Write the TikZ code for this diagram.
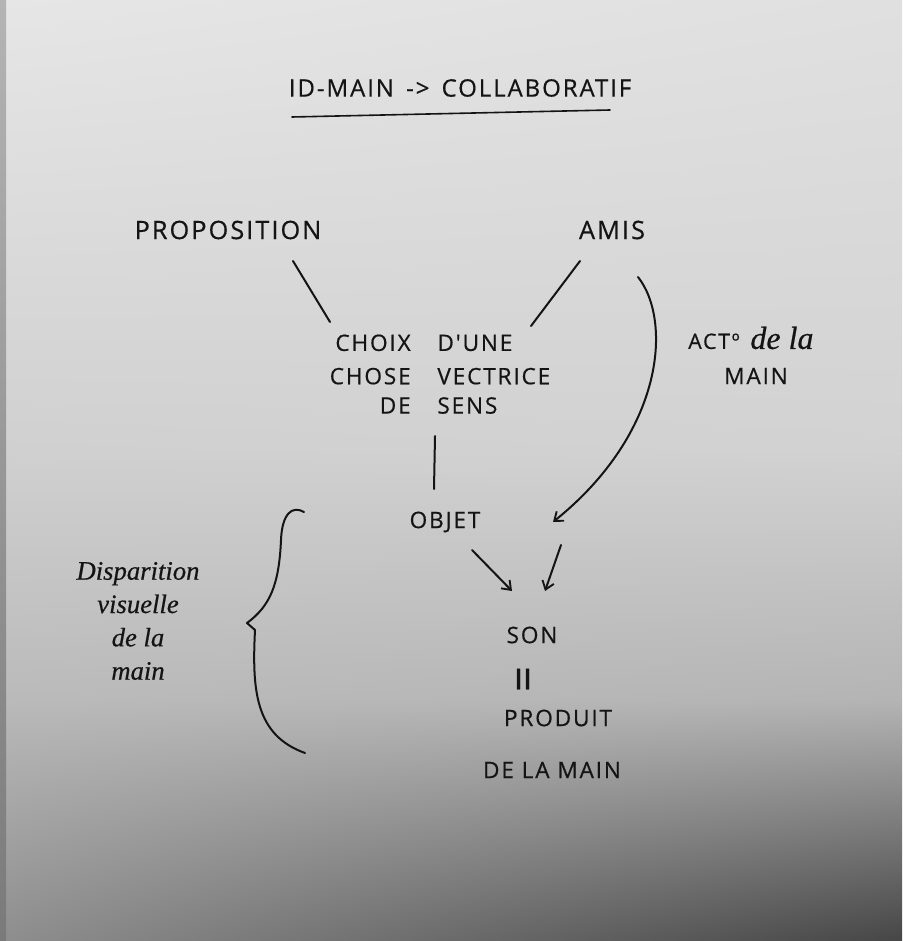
\documentclass[tikz,border=0pt]{standalone}
\usepackage{fontspec}
\usetikzlibrary{arrows.meta,shadings}
\newfontfamily\hand[LetterSpace=8,FakeBold=0.5]{Open Sans}
\newfontfamily\cursive[FakeBold=0.5]{Liberation Serif}
\definecolor{ink}{HTML}{141414}
\definecolor{pA}{HTML}{E6E6E6}
\definecolor{pB}{HTML}{E0E0E0}
\definecolor{pC}{HTML}{D0D0D0}
\definecolor{pD}{HTML}{D2D2D2}
\definecolor{pE}{HTML}{BABABA}
\definecolor{pF}{HTML}{B4B4B4}
\definecolor{pG}{HTML}{8E8E8E}
\definecolor{pH}{HTML}{464646}
\definecolor{sA}{HTML}{B4B4B4}
\definecolor{sB}{HTML}{7A7A7A}
\tikzset{
  px/.style={x=0.75pt,y=-0.75pt},
  caps/.style={inner sep=0pt,text=ink,font=\hand\fontsize{17}{20}\selectfont,align=center},
  big/.style={inner sep=0pt,text=ink,font=\hand\fontsize{19}{22}\selectfont},
  script/.style={inner sep=0pt,text=ink,font=\cursive\itshape\fontsize{20}{25}\selectfont,align=center},
  pen/.style={draw=ink,line width=1.5pt,line cap=round,line join=round},
  tip/.style={-{Straight Barb[length=6pt,width=9pt,line width=1.4pt]}}
}
\begin{document}
\begin{tikzpicture}[px]
\useasboundingbox (0,0) rectangle (902,941);
% paper
\shade[upper left=pA,upper right=pB,lower left=pC,lower right=pD] (0,0) rectangle (902,450.5);
\shade[upper left=pC,upper right=pD,lower left=pE,lower right=pF] (0,450) rectangle (902,700.5);
\shade[upper left=pE,upper right=pF,lower left=pG,lower right=pH] (0,700) rectangle (902,941);
\shade[top color=sA,bottom color=sB] (0,0) rectangle (6,941);

% title
\node[caps,font=\hand\fontsize{18}{20}\selectfont] (title) at (460,88) {ID-MAIN \,->\, COLLABORATIF};
\coordinate (ul1) at (292,117);
\coordinate (ul2) at (610,110);
\draw[pen,line width=1.2pt] (ul1) -- (ul2);

% top nodes
\node[big] (prop) at (228,230) {PROPOSITION};
\node[big] (amis) at (612,230) {AMIS};

% center
\node[caps,anchor=north,align=left] (choix) at (440,332)
  {\begin{tabular}{@{}r@{\hspace{20pt}}l@{}}CHOIX & D'UNE\\[5pt] CHOSE & VECTRICE\\[2pt] DE & SENS\end{tabular}};
\node[caps] (objet) at (445,522) {OBJET};
\node[caps] (son) at (532,635) {SON};
\node[caps,font=\hand\fontsize{34}{34}\selectfont] (eq) at (528,679) {\rotatebox{90}{=}};
\node[caps] (produit) at (558,718) {PRODUIT};
\node[caps] (delamain) at (552,770) {DE LA MAIN};

% side labels
\node[script,anchor=west,font=\cursive\itshape\fontsize{24}{25}\selectfont] (act) at (688,338) {{\hand\upshape\fontsize{16}{18}\selectfont ACTº}\,\,de la};
\node[caps] (actmain) at (756,376) {MAIN};
\node[script] (disp) at (138,621) {Disparition\\visuelle\\de la\\main};

% connectors
\coordinate (p1) at (293,261);
\coordinate (p2) at (330,322);
\draw[pen] (p1) -- (p2);
\coordinate (a1) at (580,261);
\coordinate (a2) at (531,326);
\draw[pen] (a1) -- (a2);
\coordinate (c1) at (435,436);
\coordinate (c2) at (434,489);
\draw[pen] (c1) -- (c2);
\coordinate (o1) at (472,550);
\coordinate (o2) at (512,591);
\draw[pen,tip] (o1) -- (o2);
\coordinate (m1) at (638,277);
\coordinate (m2) at (553,522);
\draw[pen,tip] (m1) .. controls (672,320) and (665,432) .. (m2);
\coordinate (r1) at (561,545);
\coordinate (r2) at (545,591);
\draw[pen,tip] (r1) -- (r2);

% brace
\coordinate (b1) at (304,512);
\coordinate (b2) at (305,753);
\draw[pen] (b1) .. controls (292,505) and (282,514) .. (281,540)
  .. controls (279,585) and (270,606) .. (247,623) -- (255,630)
  .. controls (252,690) and (255,735) .. (b2);
\end{tikzpicture}
\end{document}
